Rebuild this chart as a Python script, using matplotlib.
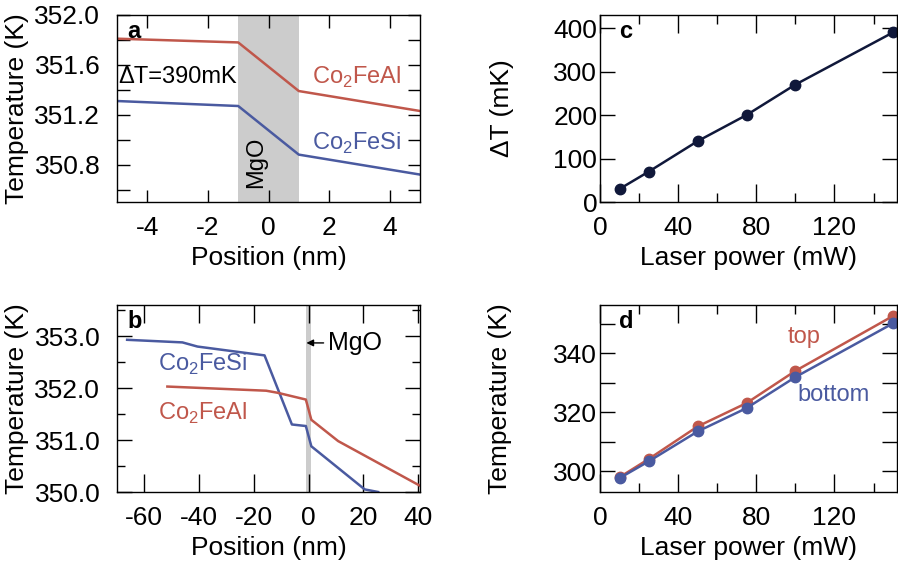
import matplotlib
matplotlib.use("Agg")
import matplotlib.pyplot as plt
from matplotlib.ticker import MultipleLocator

plt.rcParams['font.family'] = ['Liberation Sans', 'DejaVu Sans']
plt.rcParams['font.size'] = 19
plt.rcParams['axes.unicode_minus'] = False
plt.rcParams['mathtext.fontset'] = 'custom'
plt.rcParams['mathtext.rm'] = 'Liberation Sans'

RED = "#c0574b"
BLUE = "#4a5aa0"
NAVY = "#10183a"
GRAY = "#cccccc"

# panel a: temperature profile near the MgO barrier
a_x = [-5, -1, 1, 5]
a_feal = [351.81, 351.78, 351.39, 351.23]
a_fesi = [351.31, 351.27, 350.88, 350.72]

# panel b: full stack profile
b_fesi_x = [-66.3, -46.1, -40.6, -16.1, -6.1, -1.0, 1.0, 20.5, 25.4]
b_fesi_y = [352.93, 352.88, 352.80, 352.63, 351.30, 351.27, 350.88, 350.05, 350.0]
b_feal_x = [-51.6, -15.5, -11.3, -1.0, 1.0, 10.8, 40.7]
b_feal_y = [352.03, 351.95, 351.91, 351.78, 351.39, 350.98, 350.12]

# panel c: dT vs laser power
power = [10, 25, 50, 75, 100, 150]
delta_t = [30, 70, 140, 200, 270, 390]

# panel d: top / bottom temperatures
t_top = [298.0, 304.2, 315.2, 323.1, 334.0, 352.6]
t_bottom = [297.7, 303.4, 313.5, 321.4, 331.9, 350.1]

W, H = 898, 568
fig = plt.figure(figsize=(W / 100, H / 100), dpi=100)


def make_ax(l, t, r, b):
    return fig.add_axes([l / W, 1 - b / H, (r - l) / W, (b - t) / H])


def style(ax, xmaj, xmin, ymaj, ymin, ypad):
    ax.tick_params(which='both', direction='in', top=True, right=True,
                   width=1, labelsize=19)
    ax.tick_params(axis='x', which='major', length=xmaj, pad=10)
    ax.tick_params(axis='x', which='minor', length=xmin)
    ax.tick_params(axis='y', which='major', length=ymaj, pad=ypad)
    ax.tick_params(axis='y', which='minor', length=ymin)
    for s in ax.spines.values():
        s.set_linewidth(1)


def labels(ax, xl, yl, ly):
    ax.set_xlabel(xl)
    ax.set_ylabel(yl)
    ax.xaxis.set_label_coords(0.5, -0.235)
    ax.yaxis.set_label_coords(ly, 0.5)


ax_a = make_ax(117, 15, 420, 202)
ax_b = make_ax(117, 305, 420, 492)
ax_c = make_ax(600, 15, 897, 202)
ax_d = make_ax(600, 305, 897, 492)

# --- a ---
ax_a.axvspan(-1, 1, color=GRAY, lw=0, zorder=0)
ax_a.plot(a_x, a_feal, color=RED, lw=1.8)
ax_a.plot(a_x, a_fesi, color=BLUE, lw=1.8)
ax_a.set_xlim(-5, 5)
ax_a.set_ylim(350.5, 352.0)
ax_a.xaxis.set_major_locator(MultipleLocator(2))
ax_a.yaxis.set_minor_locator(MultipleLocator(0.2))
ax_a.set_yticks([350.8, 351.2, 351.6, 352.0])
ax_a.set_yticklabels(['350.8', '351.2', '351.6', '352.0'])
style(ax_a, 9, 5, 9, 9, 12)
labels(ax_a, 'Position (nm)', 'Temperature (K)', -0.29)
ax_a.text(0.035, 0.975, 'a', transform=ax_a.transAxes, fontsize=17,
          fontweight='bold', va='top', ha='left')
ax_a.text(-4.95, 351.50, 'ΔT=390mK', fontsize=17, va='center', ha='left')
ax_a.text(1.45, 351.50, r'Co$_2$FeAl', fontsize=17, color=RED, va='center')
ax_a.text(1.45, 350.97, r'Co$_2$FeSi', fontsize=17, color=BLUE, va='center')
ax_a.text(-0.4, 350.82, 'MgO', fontsize=17, rotation=90, va='center', ha='center')

# --- b ---
ax_b.axvspan(-1, 1, color=GRAY, lw=0, zorder=0)
ax_b.plot(b_fesi_x, b_fesi_y, color=BLUE, lw=1.8)
ax_b.plot(b_feal_x, b_feal_y, color=RED, lw=1.8)
ax_b.set_xlim(-70, 40.7)
ax_b.set_ylim(350.0, 353.6)
ax_b.xaxis.set_major_locator(MultipleLocator(20))
ax_b.yaxis.set_minor_locator(MultipleLocator(0.5))
ax_b.set_yticks([350, 351, 352, 353])
ax_b.set_yticklabels(['350.0', '351.0', '352.0', '353.0'])
style(ax_b, 13, 7, 11, 6, 12)
labels(ax_b, 'Position (nm)', 'Temperature (K)', -0.29)
ax_b.text(0.035, 0.975, 'b', transform=ax_b.transAxes, fontsize=17,
          fontweight='bold', va='top', ha='left')
ax_b.text(-55, 352.45, r'Co$_2$FeSi', fontsize=17, color=BLUE, va='center')
ax_b.text(-55, 351.52, r'Co$_2$FeAl', fontsize=17, color=RED, va='center')
ax_b.annotate('MgO', xy=(-0.8, 352.87), xytext=(7, 352.87), fontsize=18,
              va='center', ha='left',
              arrowprops=dict(arrowstyle='-|>', color='black', lw=1,
                              shrinkA=1, shrinkB=0, mutation_scale=10))

# --- c ---
ax_c.plot(power, delta_t, color=NAVY, lw=1.8, marker='o', ms=7.5)
ax_c.set_xlim(0, 152)
ax_c.set_ylim(0, 430)
ax_c.xaxis.set_major_locator(MultipleLocator(40))
ax_c.xaxis.set_minor_locator(MultipleLocator(20))
ax_c.yaxis.set_major_locator(MultipleLocator(100))
style(ax_c, 13, 6.5, 11, 11, 2)
labels(ax_c, 'Laser power (mW)', 'ΔT (mK)', -0.29)
ax_c.text(0.065, 0.975, 'c', transform=ax_c.transAxes, fontsize=17,
          fontweight='bold', va='top', ha='left')

# --- d ---
ax_d.plot(power, t_top, color=RED, lw=1.8, marker='o', ms=7.5)
ax_d.plot(power, t_bottom, color=BLUE, lw=1.8, marker='o', ms=7.5)
ax_d.set_xlim(0, 152)
ax_d.set_ylim(293, 356.3)
ax_d.xaxis.set_major_locator(MultipleLocator(40))
ax_d.xaxis.set_minor_locator(MultipleLocator(20))
ax_d.yaxis.set_major_locator(MultipleLocator(20))
ax_d.yaxis.set_minor_locator(MultipleLocator(10))
style(ax_d, 13, 6.5, 11, 11, 2)
labels(ax_d, 'Laser power (mW)', 'Temperature (K)', -0.295)
ax_d.text(0.065, 0.975, 'd', transform=ax_d.transAxes, fontsize=17,
          fontweight='bold', va='top', ha='left')
ax_d.text(96, 345.6, 'top', fontsize=17, color=RED, va='center', ha='left')
ax_d.text(101, 325.9, 'bottom', fontsize=17, color=BLUE, va='center', ha='left')

fig.savefig('out.png', dpi=100)
